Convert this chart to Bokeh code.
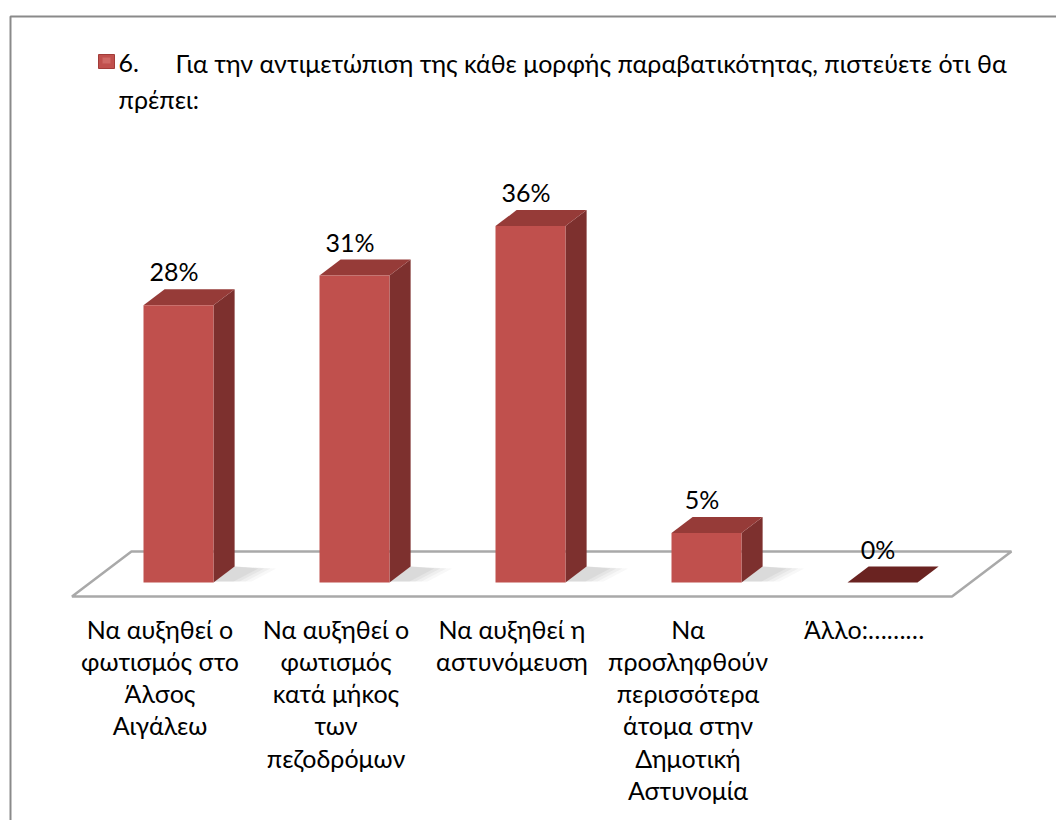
from bokeh.plotting import figure
from bokeh.models import Range1d, ColumnDataSource
from bokeh.core.properties import value
from bokeh.embed import file_html
from bokeh.resources import INLINE

# ---------------- data ----------------
categories = [
    "Να αυξηθεί ο\nφωτισμός στο\nΆλσος\nΑιγάλεω",
    "Να αυξηθεί ο\nφωτισμός\nκατά μήκος\nτων\nπεζοδρόμων",
    "Να αυξηθεί η\nαστυνόμευση",
    "Να\nπροσληφθούν\nπερισσότερα\nάτομα στην\nΔημοτική\nΑστυνομία",
    "Άλλο:………",
]
values = [28, 31, 36, 5, 0]
value_labels = ["28%", "31%", "36%", "5%", "0%"]
series_number = "6."
series_line1 = "Για την αντιμετώπιση της κάθε μορφής παραβατικότητας, πιστεύετε ότι θα"
series_line2 = "πρέπει:"

# ---------------- layout helpers (pixel geometry of the 3-D look) ----------------
W, H = 1056, 820
X0_PX, SLOT_PX = 178.0, 176.0      # centre of first bar front face, category spacing
Y0_PX, PX_PER_PCT = 582.0, 9.9     # baseline of bar fronts, pixels per percent
def X(px):
    return (px - X0_PX) / SLOT_PX
def Y(py):
    return (Y0_PX - py) / PX_PER_PCT

SLANT = 1.32                       # horizontal px shift per px of depth
BAR_DEPTH_PX = 16.0
HALF_W = 35.0 / SLOT_PX
DDX = SLANT * BAR_DEPTH_PX / SLOT_PX
DDY = BAR_DEPTH_PX / PX_PER_PCT

FRONT = "#C0504D"
SIDE = "#7D302E"
TOP = "#963B38"
ZERO_TOP = "#6A2321"
FONT = value("Lato")
FS = "25px"

p = figure(width=W, height=H, x_range=Range1d(X(0), X(W)), y_range=Range1d(Y(H), Y(0)),
           output_backend="svg", toolbar_location=None, min_border=0,
           x_axis_type=None, y_axis_type=None, outline_line_color=None)
p.grid.visible = False
p.background_fill_color = "white"
p.border_fill_color = "white"

# chart frame (cropped at right and bottom)
p.line([X(10), X(10), X(W + 5)], [Y(H + 5), Y(16), Y(16)], line_color="#8A8A8A", line_width=2)

# floor parallelogram
n = len(categories)
d_front, d_back = -14.0, 31.0
fx = [-0.5 + SLANT * d_front / SLOT_PX, -0.5 + SLANT * d_back / SLOT_PX,
      n - 0.5 + SLANT * d_back / SLOT_PX, n - 0.5 + SLANT * d_front / SLOT_PX]
fy = [d_front / PX_PER_PCT, d_back / PX_PER_PCT, d_back / PX_PER_PCT, d_front / PX_PER_PCT]
p.patch(fx + [fx[0]], fy + [fy[0]], fill_color="white", line_color="#A9A9A9", line_width=2.5)

# soft shadows right of each bar
for k, a in enumerate([0.08, 0.06, 0.05, 0.04]):
    sx, sy = [], []
    for i, v in enumerate(values):
        if v <= 0:
            continue
        xr = i + HALF_W
        grow = (k + 1) * 6 / SLOT_PX
        sx.append([xr, xr + DDX, xr + DDX + 0.10 + grow, xr + 0.08 + grow])
        sy.append([0.1, DDY, DDY - 0.2, 0.1])
    p.patches(sx, sy, fill_color="#555555", fill_alpha=a, line_color=None)

# bars (side, top, front faces)
side_x, side_y, top_x, top_y, front_x, front_y, top_col = [], [], [], [], [], [], []
for i, v in enumerate(values):
    xl, xr = i - HALF_W, i + HALF_W
    side_x.append([xr, xr + DDX, xr + DDX, xr])
    side_y.append([0, DDY, v + DDY, v])
    top_x.append([xl, xr, xr + DDX, xl + DDX])
    top_y.append([v, v, v + DDY, v + DDY])
    front_x.append([xl, xr, xr, xl])
    front_y.append([0, 0, v, v])
    top_col.append(TOP if v > 0 else ZERO_TOP)

nz = [i for i, v in enumerate(values) if v > 0]
p.patches([side_x[i] for i in nz], [side_y[i] for i in nz], fill_color=SIDE, line_color=None)
p.patches(top_x, top_y, fill_color=top_col, line_color=None)
p.patches([front_x[i] for i in nz], [front_y[i] for i in nz], fill_color=FRONT, line_color=None)

# value labels
lab_src = ColumnDataSource(dict(x=[i - 0.025 for i in range(n)],
                                y=[v + DDY + 18 / PX_PER_PCT for v in values],
                                t=value_labels))
p.text(x="x", y="y", text="t", source=lab_src, text_font=FONT, text_font_size=FS,
       text_align="center", text_baseline="middle", text_color="black")

# category labels (centred under the front edge of the floor)
cat_src = ColumnDataSource(dict(x=[i + SLANT * d_front / SLOT_PX for i in range(n)],
                                y=[Y(613)] * n, t=categories))
p.text(x="x", y="y", text="t", source=cat_src, text_font=FONT, text_font_size=FS,
       text_align="center", text_baseline="top", text_line_height=1.075, text_color="black")

# legend entry (series name)
p.rect(x=[X(106)], y=[Y(61)], width=16 / SLOT_PX, height=14 / PX_PER_PCT,
       fill_color=FRONT, line_color="#A23C39")
p.rect(x=[X(106)], y=[Y(60)], width=8 / SLOT_PX, height=6 / PX_PER_PCT,
       fill_color="#D97A77", fill_alpha=0.6, line_color=None)
p.text(x=[X(118)], y=[Y(62)], text=[series_number], text_font=FONT, text_font_size=FS,
       text_align="left", text_baseline="middle", text_color="black")
p.text(x=[X(175)], y=[Y(62)], text=[series_line1], text_font=FONT, text_font_size=FS,
       text_align="left", text_baseline="middle", text_color="black")
p.text(x=[X(118)], y=[Y(98)], text=[series_line2], text_font=FONT, text_font_size=FS,
       text_align="left", text_baseline="middle", text_color="black")

open("out.html", "w").write(file_html(p, INLINE))
